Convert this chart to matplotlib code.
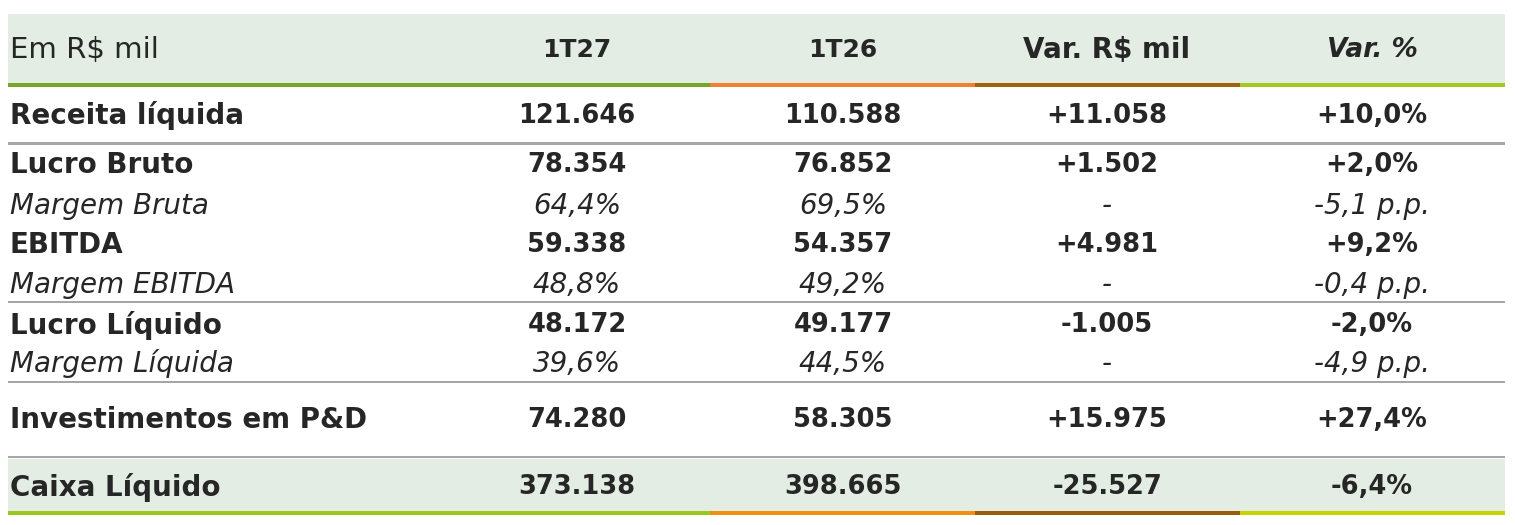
import matplotlib
matplotlib.use("Agg")
import matplotlib.pyplot as plt
from matplotlib.patches import Rectangle

header = ["Em R$ mil", "1T27", "1T26", "Var. R$ mil", "Var. %"]
labels = ["Receita líquida", "Lucro Bruto", "Margem Bruta", "EBITDA", "Margem EBITDA",
          "Lucro Líquido", "Margem Líquida", "Investimentos em P&D", "Caixa Líquido"]
col_1t27 = ["121.646", "78.354", "64,4%", "59.338", "48,8%", "48.172", "39,6%", "74.280", "373.138"]
col_1t26 = ["110.588", "76.852", "69,5%", "54.357", "49,2%", "49.177", "44,5%", "58.305", "398.665"]
col_var = ["+11.058", "+1.502", "-", "+4.981", "-", "-1.005", "-", "+15.975", "-25.527"]
col_pct = ["+10,0%", "+2,0%", "-5,1 p.p.", "+9,2%", "-0,4 p.p.", "-2,0%", "-4,9 p.p.", "+27,4%", "-6,4%"]
italic_rows = [2, 4, 6]

row_y = [116, 165, 206, 245, 285, 325, 364, 420, 487]
col_x = [577, 843, 1107, 1372]
seg = [(8, 710), (710, 975), (975, 1240), (1240, 1505)]

fig = plt.figure(figsize=(15.15, 5.25), dpi=100)
ax = fig.add_axes([0, 0, 1, 1])
ax.set_xlim(0, 1515); ax.set_ylim(525, 0); ax.axis("off")
bg = "#e3ede3"
ax.add_patch(Rectangle((8, 14), 1497, 70, color=bg, lw=0))
ax.add_patch(Rectangle((8, 459), 1497, 52, color=bg, lw=0))
top_cols = ["#76a52a", "#f08030", "#a0620a", "#a4c820"]
bot_cols = ["#9ac81c", "#f09010", "#9a5c0a", "#c8d400"]
for (a, b), c in zip(seg, top_cols):
    ax.add_patch(Rectangle((a, 83), b - a, 4, color=c, lw=0))
for (a, b), c in zip(seg, bot_cols):
    ax.add_patch(Rectangle((a, 511), b - a, 4, color=c, lw=0))
for y in [143.5, 302, 382, 457]:
    ax.add_patch(Rectangle((8, y - 1.2), 1497, 2.4, color="#a6a6a6", lw=0))

tc = "#262626"
ff = "DejaVu Sans"
ax.text(10, 50, header[0], fontsize=21, color=tc, va="center", ha="left", family=ff)
hsz = [18, 18, 20, 19]
for i, h in enumerate(header[1:]):
    ax.text(col_x[i], 50, h, fontsize=hsz[i], color=tc, va="center", ha="center",
            weight="bold", style="italic" if i == 3 else "normal", family=ff)

for r, lab in enumerate(labels):
    y = row_y[r]
    it = r in italic_rows
    if it:
        lkw = dict(style="italic", weight="normal", fontsize=20)
        dkw = dict(style="italic", weight="normal", fontsize=20)
    else:
        lkw = dict(weight="bold", fontsize=20)
        dkw = dict(weight="bold", fontsize=18.5)
    ax.text(10, y, lab, color=tc, va="center", ha="left", family=ff, **lkw)
    for x, col in zip(col_x, [col_1t27, col_1t26, col_var, col_pct]):
        ax.text(x, y, col[r], color=tc, va="center", ha="center", family=ff, **dkw)

fig.savefig("out.png", dpi=100)
